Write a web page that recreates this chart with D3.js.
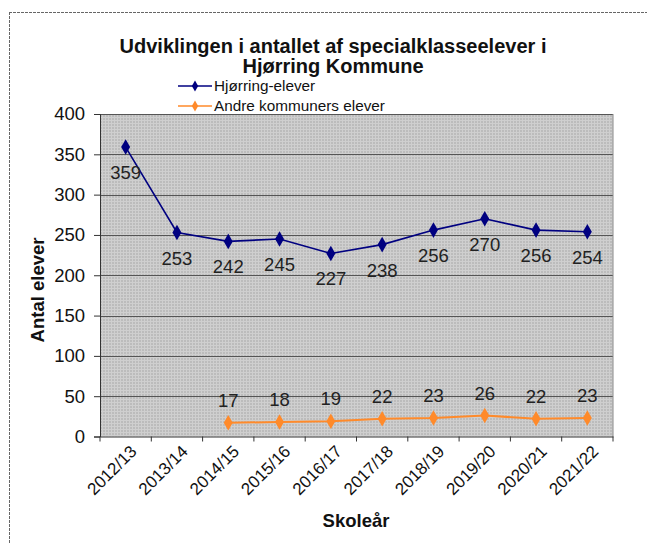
<!DOCTYPE html>
<html><head><meta charset="utf-8">
<script src="https://cdn.jsdelivr.net/npm/d3@7"></script>
<style>body{margin:0;background:#fff}svg{display:block}text{font-family:"Liberation Sans",Arial,sans-serif}</style>
</head><body>
<svg id="c" width="647" height="543"></svg>
<script>
const categories = ["2012/13","2013/14","2014/15","2015/16","2016/17","2017/18","2018/19","2019/20","2020/21","2021/22"];
const hjorring = [359,253,242,245,227,238,256,270,256,254];
const andre = [null,null,17,18,19,22,23,26,22,23];
const yTicks = [0,50,100,150,200,250,300,350,400];
const seriesNames = ["Hjørring-elever","Andre kommuners elever"];
const colors = ["#000080","#ff8a2a"];

const svg = d3.select("#c");
// outer frame (top & left)
svg.append("line").attr("x1",9).attr("x2",647).attr("y1",12.5).attr("y2",12.5).attr("stroke","#666").attr("stroke-dasharray","3,1");
svg.append("line").attr("x1",9.5).attr("x2",9.5).attr("y1",12).attr("y2",543).attr("stroke","#666").attr("stroke-dasharray","3,1");

const L=100,R=613,T=114,B=436.5;
const x = d3.scaleBand().domain(categories).range([L,R]);
const y = d3.scaleLinear().domain([0,400]).range([B,T]);

const defs = svg.append("defs");
const pat = defs.append("pattern").attr("id","bg").attr("patternUnits","userSpaceOnUse").attr("width",3).attr("height",3);
pat.append("rect").attr("width",3).attr("height",3).attr("fill","#bcbcbc");
pat.append("rect").attr("width",3).attr("height",1).attr("fill","#cfcfcf");
pat.append("rect").attr("width",1).attr("height",3).attr("fill","#cfcfcf");

svg.append("rect").attr("x",L).attr("y",T).attr("width",R-L).attr("height",B-T).attr("fill","url(#bg)");
// gridlines
svg.append("g").selectAll("line").data(yTicks.filter(d=>d>0)).join("line")
  .attr("x1",L).attr("x2",R).attr("y1",d=>Math.round(y(d))+0.5).attr("y2",d=>Math.round(y(d))+0.5)
  .attr("stroke","#555").attr("stroke-width",1);
svg.append("line").attr("x1",R).attr("x2",R).attr("y1",T).attr("y2",B).attr("stroke","#888");

// y axis
const yAxis = svg.append("g").attr("transform",`translate(${L},0)`)
  .call(d3.axisLeft(y).tickValues(yTicks).tickSize(6).tickPadding(9));
yAxis.select(".domain").attr("stroke","#333");
yAxis.selectAll(".tick line").attr("stroke","#333");
yAxis.selectAll("text").attr("font-size",18.5).attr("fill","#111").attr("font-family","Liberation Sans, Arial, sans-serif");

// x axis
const xAxis = svg.append("g").attr("transform",`translate(0,${B})`)
  .call(d3.axisBottom(x).tickSize(0).tickFormat(""));
xAxis.select(".domain").attr("stroke","#333");
const bounds = categories.map(c=>x(c)).concat([R]);
svg.append("g").selectAll("line").data(bounds).join("line")
  .attr("x1",d=>d).attr("x2",d=>d).attr("y1",B).attr("y2",B+5).attr("stroke","#333");
svg.append("g").selectAll("text").data(categories).join("text")
  .attr("transform",d=>`translate(${x(d)+x.bandwidth()/2+12},${B+16}) rotate(-45)`)
  .attr("text-anchor","end").attr("font-size",17).attr("fill","#111").text(d=>d);

// axis titles
svg.append("text").attr("x",356).attr("y",527).attr("text-anchor","middle").attr("font-size",18.5).attr("font-weight","bold").attr("fill","#111").text("Skoleår");
svg.append("text").attr("transform","translate(44,290) rotate(-90)").attr("text-anchor","middle").attr("font-size",18.5).attr("font-weight","bold").attr("fill","#111").text("Antal elever");

// title
svg.append("text").attr("x",333).attr("y",53).attr("text-anchor","middle").attr("font-size",20).attr("font-weight","bold").attr("fill","#111").text("Udviklingen i antallet af specialklasseelever i");
svg.append("text").attr("x",333).attr("y",73).attr("text-anchor","middle").attr("font-size",20).attr("font-weight","bold").attr("fill","#111").text("Hjørring Kommune");

// series
const cx = d => x(d)+x.bandwidth()/2;
const series = [hjorring, andre];
const diamond = d3.symbol().type(d3.symbolDiamond).size(70);
series.forEach((vals,i)=>{
  const pts = categories.map((c,j)=>({c,v:vals[j]})).filter(p=>p.v!=null);
  svg.append("path").datum(pts)
    .attr("d",d3.line().x(p=>cx(p.c)).y(p=>y(p.v)))
    .attr("fill","none").attr("stroke",colors[i]).attr("stroke-width",i===0?1.6:2);
  svg.append("g").selectAll("path").data(pts).join("path")
    .attr("transform",p=>`translate(${cx(p.c)},${y(p.v)})`).attr("d",diamond).attr("fill",colors[i]);
  svg.append("g").selectAll("text").data(pts).join("text")
    .attr("x",p=>cx(p.c)).attr("y",p=>y(p.v)+(i===0?32:-16))
    .attr("text-anchor","middle").attr("font-size",18.5).attr("fill","#222").text(p=>p.v);
});

// legend
const legY=[86,106];
seriesNames.forEach((n,i)=>{
  svg.append("line").attr("x1",178).attr("x2",212).attr("y1",legY[i]).attr("y2",legY[i]).attr("stroke",colors[i]).attr("stroke-width",1.5);
  svg.append("path").attr("transform",`translate(195,${legY[i]})`).attr("d",d3.symbol().type(d3.symbolDiamond).size(35)).attr("fill",colors[i]);
  svg.append("text").attr("x",214).attr("y",legY[i]+5).attr("font-size",15.3).attr("fill","#111").text(n);
});
</script>
</body></html>
